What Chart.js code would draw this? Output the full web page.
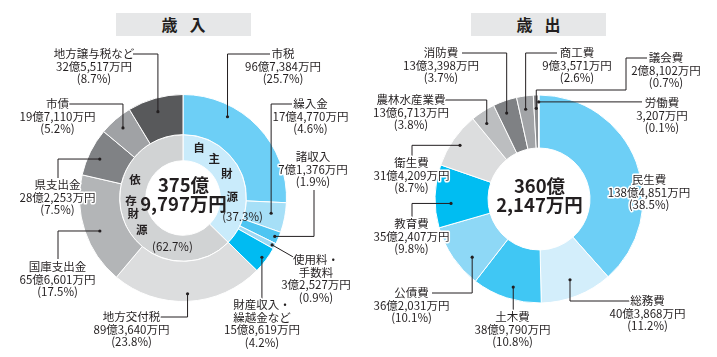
<!DOCTYPE html>
<html><head><meta charset="utf-8">
<script src="https://cdn.jsdelivr.net/npm/chart.js@4.4.1/dist/chart.umd.min.js"></script>
<style>
html,body{margin:0;padding:0;background:#fff;width:717px;height:357px;overflow:hidden;font-family:'Noto Sans CJK JP','Noto Sans',sans-serif}
.title{position:absolute;top:13px;height:23px;width:135px;background:#e6e7e8;font-weight:bold;font-size:16px;line-height:23px;text-align:center;color:#231f20;letter-spacing:-2px;text-indent:-2px}
canvas{position:absolute;top:0}
</style></head>
<body>
<div class="title" style="left:116px">歳　入</div>
<div class="title" style="left:471px">歳　出</div>
<canvas id="rev" width="358" height="357" style="left:0"></canvas>
<canvas id="exp" width="359" height="357" style="left:358px"></canvas>
<script>
// ---- data (values in 万円) ----
const revenueCategories = ['市税','繰入金','諸収入','使用料・\n手数料','財産収入・\n繰越金など','地方交付税','国庫支出金','県支出金','市債','地方譲与税など'];
const revenueValues = [967384,174770,71376,32527,158619,893640,656601,282253,197110,325517];
const revenuePercents = ['25.7%','4.6%','1.9%','0.9%','4.2%','23.8%','17.5%','7.5%','5.2%','8.7%'];
const sourceCategories = ['自主財源','依存財源'];
const sourceValues = [1404676,2355121];
const sourcePercents = ['37.3%','62.7%'];

const expenditureCategories = ['民生費','総務費','土木費','公債費','教育費','衛生費','農林水産業費','消防費','商工費','議会費','労働費'];
const expenditureValues = [1384851,403868,389790,362031,352407,314209,136713,133398,93571,28102,3207];
const expenditurePercents = ['38.5%','11.2%','10.8%','10.1%','9.8%','8.7%','3.8%','3.7%','2.6%','0.7%','0.1%'];

// ---- styles ----
const revenueColors = ['#6dcff6','#a6dff7','#4ec5f2','#9ddaf5','#00bbf2','#dcddde','#b3b5b7','#808285','#a0a2a5','#58595b'];
const sourceColors = ['#c9ebfb','#d1d3d4'];
const expenditureColors = ['#6dcff6','#d3eefb','#40c7f4','#8ed8f6','#00bdf2','#dcddde','#bcbec0','#7f8184','#a2a4a7','#8a8c8f','#bcbec0'];

const FONT = "'Noto Sans CJK JP','Noto Sans',sans-serif";
const INK = '#231f20';

function fmtAmount(v){
  const oku = Math.floor(v/10000), man = v % 10000;
  return (oku ? oku + '億' : '') + man.toLocaleString('en-US') + '万円';
}
function totalParts(arr){
  const t = arr.reduce((a,b)=>a+b,0);
  return [Math.floor(t/10000) + '億', (t%10000).toLocaleString('en-US') + '万円'];
}

// label layout (page coordinates)
const revenueLayout = [
  {i:0,t:.31,rf:.73,route:[['v',54],['h',270]],tx:283,ty:54},
  {i:1,t:.43,rf:.65,route:[['v',104],['h',292]],tx:310.5,ty:104},
  {i:2,t:.49,rf:.9,route:[['h',314],['v',190]],tx:313,ty:157},
  {i:3,t:.5,rf:.93,route:[['l',295,258]],tx:316,ty:260},
  {i:4,t:.5,rf:.88,route:[['v',299]],tx:262,ty:305},
  {i:5,t:.5,rf:.81,route:[['v',317],['h',160]],tx:131.5,ty:317},
  {i:6,t:.45,rf:.65,route:[['h',58],['v',259]],tx:57.5,ty:267},
  {i:7,t:.45,rf:.71,route:[['h',58],['v',178]],tx:57.5,ty:185},
  {i:8,t:.5,rf:.72,route:[['v',104],['h',69]],tx:57.5,ty:104},
  {i:9,t:.48,rf:.66,route:[['v',54],['h',133]],tx:94,ty:54}
];
const expenditureLayout = [
  {i:0,route:null,tx:649,ty:180},
  {i:1,t:.51,rf:.67,route:[['v',301],['h',630]],tx:647.5,ty:301},
  {i:2,t:.45,rf:.77,route:[['v',310]],tx:512.5,ty:317},
  {i:3,t:.31,rf:.71,route:[['v',293],['h',432]],tx:411.5,ty:293},
  {i:4,t:.375,rf:.7,route:[['h',412],['v',217]],tx:411.5,ty:224},
  {i:5,t:.48,rf:.84,route:[['h',412],['v',156]],tx:411.5,ty:163},
  {i:6,t:.35,rf:.77,route:[['v',100],['h',444]],tx:411,ty:100},
  {i:7,t:.39,rf:.77,route:[['v',53],['h',462]],tx:441,ty:53},
  {i:8,t:.43,rf:.75,route:[['v',53],['h',557]],tx:577,ty:53},
  {i:9,t:.5,rf:.75,route:[['v',90],['h',626],['v',58],['h',647]],tx:666,ty:58},
  {i:10,t:.5,rf:.87,route:[['h',642]],tx:662,ty:103}
];
// inner ring characters: [deg clockwise from top, radius]
const sourceTextLayout = [
  {chars:[[17.5,53],[38.3,50.6],[60.5,50.2],[88.5,49.3]],pct:[107.4,62.4]},
  {chars:[[291.3,51.5],[266.7,52.1],[252.2,52.2],[232.2,52.2]],pct:[192.2,49.8]}
];

function haloText(ctx, s, x, y){
  ctx.strokeText(s, x, y);
  ctx.fillText(s, x, y);
}

const annotate = {
  id:'annotate',
  afterDatasetsDraw(chart, args, o){
    const ctx = chart.ctx;
    const off = o.offsetX;
    const meta = chart.getDatasetMeta(0);
    ctx.save();
    ctx.lineWidth = 1;
    ctx.strokeStyle = INK;
    ctx.fillStyle = INK;
    let cx = 0, cy = 0;
    o.layout.forEach(L => {
      const arc = meta.data[L.i];
      const p = arc.getProps(['x','y','startAngle','endAngle','innerRadius','outerRadius'], true);
      cx = p.x; cy = p.y;
      if (L.route){
        const a = p.startAngle + (p.endAngle - p.startAngle) * L.t;
        const r = p.innerRadius + (p.outerRadius - p.innerRadius) * L.rf;
        let x = p.x + Math.cos(a) * r, y = p.y + Math.sin(a) * r;
        ctx.beginPath(); ctx.arc(x, y, 1.6, 0, Math.PI*2); ctx.fill();
        ctx.beginPath(); ctx.moveTo(x, y);
        L.route.forEach(s => {
          if (s[0]==='v') y = s[1];
          else if (s[0]==='h') x = s[1] - off;
          else { x = s[1] - off; y = s[2]; }
          ctx.lineTo(x, y);
        });
        ctx.stroke();
      }
    });
    ctx.font = '11.5px ' + FONT;
    ctx.textAlign = 'center';
    ctx.textBaseline = 'middle';
    ctx.strokeStyle = '#fff';
    ctx.lineWidth = 3;
    ctx.lineJoin = 'round';
    o.layout.forEach(L => {
      const lines = o.names[L.i].split('\n').concat([fmtAmount(o.values[L.i]), '(' + o.percents[L.i] + ')']);
      lines.forEach((s, k) => haloText(ctx, s, L.tx - off, L.ty + k * 12.5));
    });
    // inner ring texts
    if (o.ring){
      o.ring.layout.forEach((R, j) => {
        const name = o.ring.names[j];
        ctx.font = 'bold 11.5px ' + FONT;
        R.chars.forEach((c, k) => {
          const a = (c[0] - 90) * Math.PI / 180;
          ctx.fillText(name[k], cx + Math.cos(a) * c[1], cy + Math.sin(a) * c[1]);
        });
        ctx.font = '11.5px ' + FONT;
        const a = (R.pct[0] - 90) * Math.PI / 180;
        ctx.fillText('(' + o.ring.percents[j] + ')', cx + Math.cos(a) * R.pct[1], cy + Math.sin(a) * R.pct[1]);
      });
    }
    // center total
    ctx.font = 'bold 18.5px ' + FONT;
    const parts = totalParts(o.values);
    ctx.fillText(parts[0], cx + 0.5, cy - 13);
    ctx.fillText(parts[1], cx + 0.5, cy + 6);
    ctx.restore();
  }
};

Chart.register(annotate);

new Chart(document.getElementById('rev'), {
  type:'doughnut',
  data:{
    labels: revenueCategories,
    datasets:[
      {data: revenueValues, backgroundColor: revenueColors, borderColor:'#fff', borderWidth:1, weight:40},
      {data: sourceValues, backgroundColor: sourceColors, borderColor:'#fff', borderWidth:1, weight:26}
    ]
  },
  options:{
    responsive:false, devicePixelRatio:1, animation:false,
    cutout:'36%',
    layout:{padding:{left:79,right:71,top:94,bottom:55}},
    plugins:{
      legend:{display:false}, tooltip:{enabled:false},
      annotate:{offsetX:0, layout:revenueLayout, names:revenueCategories, values:revenueValues, percents:revenuePercents,
        ring:{layout:sourceTextLayout, names:sourceCategories, percents:sourcePercents}}
    }
  }
});

new Chart(document.getElementById('exp'), {
  type:'doughnut',
  data:{
    labels: expenditureCategories,
    datasets:[
      {data: expenditureValues, backgroundColor: expenditureColors, borderColor:'#fff', borderWidth:1}
    ]
  },
  options:{
    responsive:false, devicePixelRatio:1, animation:false,
    cutout:'49%',
    layout:{padding:{left:76.5,right:73.5,top:94.5,bottom:53.5}},
    plugins:{
      legend:{display:false}, tooltip:{enabled:false},
      annotate:{offsetX:358, layout:expenditureLayout, names:expenditureCategories, values:expenditureValues, percents:expenditurePercents}
    }
  }
});
</script>
</body></html>
